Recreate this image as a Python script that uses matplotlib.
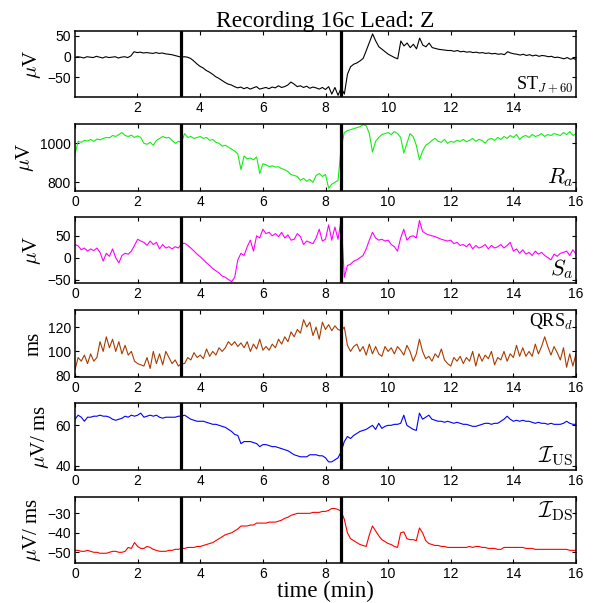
import numpy as np
import matplotlib
matplotlib.use("Agg")
import matplotlib.pyplot as plt

plt.rcParams['font.family'] = ['Liberation Sans', 'DejaVu Sans']
plt.rcParams['mathtext.fontset'] = 'cm'

# time grid (min), one value every 0.1 min
t = np.round(np.arange(0, 161) * 0.1, 2)

events = [3.4, 8.5]

st = [-2, 0, -1, -3, 0, -1, -2, 1, -1, -3,
      0, -2, -1, 0, -3, -1, 0, -2, 2, 12,
      10, 11, 9, 10, 9, 8, 10, 8, 9, 7,
      6, 5, 3, 1, -1, 0, -1, -4, -10, -17,
      -23, -27, -33, -37, -42, -48, -52, -57, -62, -66,
      -68, -72, -75, -73, -77, -74, -78, -75, -72, -78,
      -76, -74, -77, -73, -75, -70, -74, -72, -68, -61,
      -66, -72, -70, -74, -71, -76, -73, -75, -78, -74,
      -79, -72, -90, -74, -93, -75, -90, -42, -24, -18,
      -15, -10, -4, 15, 35, 55, 38, 24, 18, 12,
      6, 2, -2, -5, 38, 26, 33, 22, 30, 19,
      45, 28, 24, 33, 22, 20, 18, 17, 16, 15,
      15, 13, 15, 12, 13, 11, 12, 10, 11, 9,
      10, 8, 9, 7, 8, 6, 7, 5, 12, 9,
      7, 6, 4, 6, 3, 5, 2, 4, 1, 3,
      2, 0, 1, -2, -1, -3, -5, -2, -6, -4,
      -8]

ra = [945, 1010, 1005, 1015, 1012, 1020, 1010, 1022, 1018, 1025,
      1030, 1028, 1040, 1035, 1045, 1055, 1040, 1035, 1042, 1030,
      1038, 1030, 1000, 995, 1005, 990, 1015, 1025, 1035, 1028,
      1030, 1015, 1000, 1010, 1005, 1050, 1030, 1035, 1025, 1030,
      1035, 1025, 1030, 1015, 1020, 1005, 1000, 985, 990, 980,
      970, 960, 945, 865, 935, 920, 925, 915, 930, 845,
      895, 890, 880, 885, 878, 880, 870, 865, 855, 840,
      835, 830, 810, 820, 805, 815, 800, 835, 845, 830,
      840, 770, 790, 800, 810, 980, 1055, 1065, 1070, 1075,
      1080, 1085, 1095, 1090, 1050, 955, 1010, 1030, 1045, 1050,
      1055, 1045, 1060, 1050, 1030, 950, 1000, 1050, 1035, 990,
      915, 960, 990, 1000, 1015, 1025, 1010, 1005, 1020, 1000,
      1010, 1005, 1015, 1010, 1020, 1008, 1015, 1025, 1010, 1020,
      1015, 1000, 1020, 1025, 1015, 1030, 1020, 1035, 1025, 1040,
      1030, 1045, 1020, 1035, 1040, 1030, 1045, 1035, 1040, 1050,
      1035, 1045, 1040, 1050, 1045, 1040, 1055, 1045, 1060, 1040,
      1050]

sa = [30, 27, 18, 22, 15, 20, 16, 22, 12, -8,
      10, 3, 20, 0, -12, 5, 10, 8, 15, 28,
      42, 38, 35, 28, 38, 30, 35, 20, 30, 22,
      25, 20, 25, 22, 32, 33, 28, 22, 15, 8,
      2, -5, -12, -18, -25, -30, -35, -42, -45, -50,
      -55, -45, -5, 10, 5, 25, 40, 15, 50, 45,
      65, 55, 58, 50, 55, 48, 58, 45, 52, 40,
      42, 55, 48, 30, 38, 35, 32, 45, 65, 38,
      42, 75, 40, 70, 42, 88, -45, -18, -15, -8,
      -5, 0, 5, 20, 40, 58, 45, 40, 42, 38,
      40, 30, 25, 15, 45, 65, 40, 48, 50, 45,
      85, 60, 55, 52, 50, 48, 45, 42, 40, 38,
      40, 32, 35, 28, 30, 25, 32, 20, 28, 22,
      25, 30, 20, 28, 22, 25, 30, 22, 28, 35,
      15, 20, 10, 18, 8, 12, 5, 15, 8, 12,
      5, 0, -5, 8, 3, 10, 12, 15, 5, 18,
      8]

qrs = [85, 95, 92, 97, 90, 98, 92, 95, 108, 100,
       112, 103, 110, 100, 108, 98, 105, 97, 100, 92,
       90, 89, 88, 95, 86, 100, 90, 98, 89, 100,
       95, 90, 93, 88, 90, 90, 95, 93, 99, 95,
       97, 94, 102, 96, 100, 97, 103, 100, 103, 108,
       105, 108, 104, 107, 103, 108, 100, 106, 102, 110,
       101, 104, 101, 106, 103, 110, 106, 112, 108, 116,
       112, 118, 115, 126, 120, 124, 113, 120, 110, 124,
       118, 122, 117, 121, 118, 117, 120, 105, 100, 104,
       106, 100, 104, 97, 106, 98, 104, 98, 96, 104,
       100, 103, 98, 104, 101, 97, 105, 100, 92, 98,
       110, 100, 94, 96, 92, 98, 95, 102, 93, 90,
       88, 95, 92, 96, 90, 95, 92, 100, 88, 98,
       92, 97, 94, 100, 89, 95, 93, 100, 92, 98,
       95, 105, 96, 103, 96, 100, 96, 106, 98, 104,
       112, 104, 97, 104, 99, 93, 103, 87, 98, 88,
       98]

ius = [63, 65, 64, 62, 64, 64, 64.5, 64.5, 65, 64.5,
       64.5, 64, 63, 62.5, 63, 63.5, 64.5, 64, 65, 64.5,
       65, 66, 64, 64.5, 65, 64.5, 65, 64, 63.5, 64,
       64, 64, 64, 64.5, 64.5, 65, 64, 63, 62.5, 62,
       62, 62, 61.5, 61, 60.5, 60.5, 60, 59.5, 59, 58,
       57, 55.5, 55, 51, 52, 52, 52, 51.5, 51, 49.5,
       50.5, 50.5, 50, 49.5, 49.5, 49, 48.5, 48, 47.5, 46.5,
       45.5, 45, 44.5, 44.5, 44.5, 45.5, 45.5, 45.5, 45, 45,
       44, 42, 42, 43, 44, 47, 52, 54.5, 53.5, 55,
       56, 57, 57.5, 58, 59, 60, 58, 61, 58.5, 59.5,
       60, 60, 60.5, 60.5, 61, 65, 60, 59, 58, 57.5,
       66, 63, 64, 65, 63, 62.5, 62, 62, 61.5, 62,
       61.5, 61, 61.5, 61, 60.5, 60.5, 60, 59.5, 59.5, 60,
       60.5, 61, 61, 60.5, 61, 61, 62, 63, 64.5, 63,
       62, 62.5, 62, 62.5, 62, 62, 61.5, 61, 61.5, 61,
       61, 60.5, 61, 60.5, 60.5, 60.5, 61, 62, 61, 60.5,
       60.5]

ids = [-49, -49, -49.5, -49.5, -49, -49.5, -50, -50, -50.5, -50.5,
       -50.5, -50, -49.5, -49.5, -50, -50, -49.5, -47.5, -48, -45,
       -47, -48, -48, -47, -47.5, -48.5, -49, -49.5, -49.5, -49.5,
       -49, -49, -48.5, -48.5, -48, -48, -47.5, -47.5, -47.5, -47,
       -47, -46.5, -46, -45.5, -45, -44, -43, -42, -41, -40.5,
       -40, -39, -38, -36.5, -36.5, -36.5, -36, -36, -35, -35,
       -35, -35, -34.5, -34.5, -34.5, -34, -33.5, -32.5, -32, -31,
       -30.5, -30, -30, -30, -30, -30, -29.5, -29.5, -29.5, -29,
       -29, -28.5, -27.5, -27.5, -28, -29, -33, -40, -43, -44,
       -45, -46, -46.5, -47, -41, -36.5, -39, -41.5, -43.5, -44.5,
       -45.5, -46, -47, -47.5, -40, -39.5, -43, -43.5, -43.5, -44,
       -37.5, -40, -44, -45.5, -46, -46.5, -46.5, -47, -47, -47.5,
       -47.5, -47.5, -47.5, -47.5, -47.5, -47.5, -47, -47.5, -47, -47,
       -47.5, -47.5, -48, -48, -48, -48.5, -48.5, -47.5, -47.5, -47.5,
       -47.5, -47.5, -47.5, -47.5, -48, -48, -48, -48.5, -48.5, -48.5,
       -48.5, -48.5, -48.5, -48.5, -48.5, -48.5, -48.5, -48.5, -49, -49,
       -49]

series = [st, ra, sa, qrs, ius, ids]
colors = ['black', '#11ee11', '#ff00ff', '#a83c00', '#0000ff', '#ff0000']
ylabels = [r'$\mu$V', r'$\mu$V', r'$\mu$V', 'ms', r'$\mu$V/ ms', r'$\mu$V/ ms']
ylims = [(-97, 62), (757, 1099), (-58, 93), (79, 134), (38, 71), (-55.5, -21.6)]
yticks = [[-50, 0, 50], [800, 1000], [-50, 0, 50], [80, 100, 120], [40, 60], [-50, -40, -30]]
tags = [r'ST$_{J+60}$', r'$R_a$', r'$S_a$', r'QRS$_d$', r'$\mathcal{I}_{\rm US}$', r'$\mathcal{I}_{\rm DS}$']
tag_top = [False, False, False, True, False, True]
tag_size = [13, 16, 16, 13, 16, 16]

W, H = 600, 603
fig = plt.figure(figsize=(W / 100, H / 100), dpi=100)
pix = [(31, 97), (124, 190.7), (217, 283), (310, 377), (403, 470), (497, 563)]
serif = ['Liberation Serif', 'DejaVu Serif']

for i, (top, bot) in enumerate(pix):
    ax = fig.add_axes([75 / W, 1 - bot / H, 501 / W, (bot - top) / H])
    ax.plot(t, series[i], color=colors[i], lw=0.8)
    for e in events:
        ax.axvline(e, color='black', lw=2.3)
    if i == 0:
        ax.set_xlim(0.02, 15.98)
        ax.set_xticks([2, 4, 6, 8, 10, 12, 14])
    else:
        ax.set_xlim(0, 16)
        ax.set_xticks(range(0, 17, 2))
    ax.set_ylim(*ylims[i])
    ax.set_yticks(yticks[i])
    ax.tick_params(direction='in', top=True, right=True, labelsize=10,
                   length=3, width=0.8, pad=3)
    for sp in ax.spines.values():
        sp.set_linewidth(1.1)
    ax.set_ylabel(ylabels[i], family=serif, fontsize=15, labelpad=3)
    if tag_top[i]:
        ax.text(0.995, 0.97, tags[i], transform=ax.transAxes, ha='right', va='top',
                fontsize=tag_size[i], family=serif)
    else:
        ax.text(0.995, 0.03, tags[i], transform=ax.transAxes, ha='right', va='bottom',
                fontsize=tag_size[i], family=serif)
    if i == 0:
        ax.set_title('Recording 16c Lead: Z', family=serif, fontsize=17, pad=3)
    if i == 5:
        ax.set_xlabel('time (min)', family=serif, fontsize=16.5, labelpad=0)

fig.savefig('out.png', dpi=100)
